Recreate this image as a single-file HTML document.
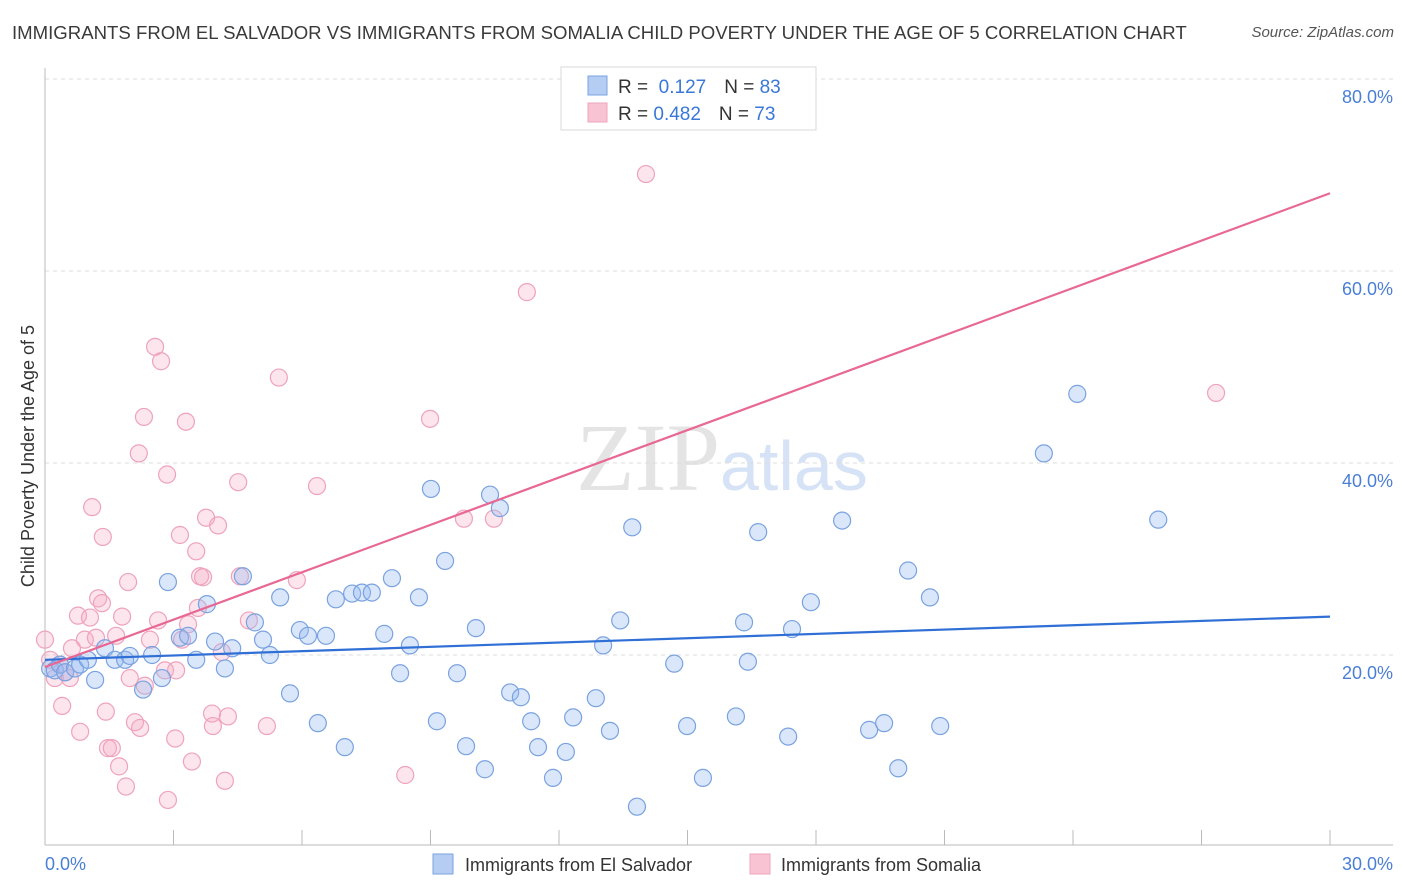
<!DOCTYPE html>
<html><head><meta charset="utf-8">
<style>
body{margin:0;background:#fff;font-family:"Liberation Sans",sans-serif;}
#wrap{position:relative;width:1406px;height:892px;overflow:hidden;}
.title{position:absolute;left:12px;top:22px;font-size:18.6px;color:#3a3a3a;white-space:nowrap;}
.src{position:absolute;right:12px;top:24px;font-size:15px;color:#555;font-style:italic;}
</style></head>
<body>
<div id="wrap">
<div class="title">IMMIGRANTS FROM EL SALVADOR VS IMMIGRANTS FROM SOMALIA CHILD POVERTY UNDER THE AGE OF 5 CORRELATION CHART</div>
<div class="src">Source: ZipAtlas.com</div>
<svg id="svg" width="1406" height="892" style="position:absolute;left:0;top:0">
<text x="720" y="490" text-anchor="end" font-family="Liberation Serif" font-size="96" fill="#e4e4e4">ZIP</text>
<text x="720" y="490" font-family="Liberation Sans" font-size="70" fill="#d6e2f5">atlas</text>
</svg>
</div>
<script>
const yTicks=[20,40,60,80];
const yTickLabels=["20.0%","40.0%","60.0%","80.0%"];
const xTicks=[0,3,6,9,12,15,18,21,24,27,30];
const blueX=[0.12,0.23,0.35,0.47,0.70,0.82,1.00,1.17,1.40,1.63,1.87,1.98,2.29,2.50,2.73,2.87,3.15,3.34,3.53,3.78,3.97,4.20,4.37,4.62,4.90,5.09,5.25,5.49,5.72,5.95,6.14,6.37,6.56,6.79,7.00,7.17,7.40,7.63,7.92,8.10,8.29,8.52,8.73,9.01,9.15,9.34,9.62,9.83,10.06,10.27,10.39,10.62,10.86,11.11,11.35,11.51,11.86,12.16,12.33,12.86,13.03,13.19,13.43,13.71,13.82,14.69,14.99,15.36,16.13,16.32,16.41,16.65,17.35,17.44,17.88,18.61,19.24,19.59,19.92,20.15,20.66,20.90,23.32,24.10,25.99];
const blueY=[18.6,18.4,19.0,18.2,18.6,19.0,19.5,17.4,20.7,19.5,19.5,19.9,16.4,20.0,17.6,27.6,21.8,22.0,19.5,25.3,21.4,18.6,20.7,28.2,23.4,21.6,20.0,26.0,16.0,22.6,22.0,12.9,22.0,25.8,10.4,26.4,26.5,26.5,22.2,28.0,18.1,21.0,26.0,37.3,13.1,29.8,18.1,10.5,22.8,8.1,36.7,35.3,16.1,15.6,13.1,10.4,7.2,9.9,13.5,15.5,21.0,12.1,23.6,33.3,4.2,19.1,12.6,7.2,13.6,23.4,19.3,32.8,11.5,22.7,25.5,34.0,12.2,12.9,8.2,28.8,26.0,12.6,41.0,47.2,34.1];
const pinkX=[0.0,0.12,0.23,0.35,0.47,0.58,0.63,0.77,0.82,0.40,0.93,1.05,1.10,1.19,1.24,1.33,1.35,1.42,1.47,1.56,1.66,1.73,1.80,1.89,1.94,1.98,2.10,2.22,2.31,2.33,2.45,2.57,2.64,2.71,2.80,2.85,2.87,3.04,3.06,3.15,3.20,3.29,3.34,3.43,3.53,3.57,3.62,3.69,3.76,3.90,3.92,4.04,4.13,4.20,4.27,4.51,4.55,4.76,5.18,5.46,5.88,6.35,8.41,8.99,9.78,10.48,11.25,14.03,27.34,2.19];
const pinkY=[21.6,19.5,17.6,19.0,18.2,17.6,20.7,24.1,12.0,14.7,21.6,23.9,35.4,21.8,25.9,25.4,32.3,14.1,10.3,10.3,22.0,8.4,24.0,6.3,27.6,17.6,13.0,12.4,44.8,16.8,21.6,52.1,23.6,50.6,18.4,38.8,4.9,11.3,18.4,32.5,21.6,44.3,23.2,8.9,30.8,24.9,28.2,28.1,34.3,13.9,12.6,33.5,20.3,6.9,13.6,38.0,28.2,23.6,12.6,48.9,27.8,37.6,7.5,44.6,34.2,34.2,57.8,70.1,47.3,41.0];
const blueTrend=[19.5,24.0];
const pinkTrend=[18.75,68.1];
const NS="http://www.w3.org/2000/svg";
const svg=document.getElementById('svg');
const X=v=>45+v/30*1285;
const Y=v=>847-v*9.6;
function mk(t,a){const e=document.createElementNS(NS,t);for(const k in a)e.setAttribute(k,a[k]);svg.appendChild(e);return e;}
yTicks.forEach((t,i)=>{
 const g=mk('line',{x1:45,x2:1393,y1:Y(t),y2:Y(t),stroke:'#dddddd','stroke-dasharray':'4,4'});
 
 
 const l=mk('text',{x:1393,y:Y(t)+24,'text-anchor':'end','font-size':18,fill:'#4a7fd6','font-family':'Liberation Sans'});
 l.textContent=yTickLabels[i];
 
 
});
const tg=mk('line',{x1:45,x2:1393,y1:79,y2:79,stroke:'#dddddd','stroke-dasharray':'4,4'});


const ax=mk('line',{x1:45,x2:1393,y1:845,y2:845,stroke:'#bbbbbb'});


const ay=mk('line',{x1:45,x2:45,y1:68,y2:845,stroke:'#bbbbbb'});


xTicks.forEach(t=>{
 const e=mk('line',{x1:X(t),x2:X(t),y1:830,y2:845,stroke:'#bbbbbb'});
 
 
});
function pts(xs,ys,fill,stroke,name){
 xs.forEach((x,i)=>{
  const c=mk('circle',{cx:X(x),cy:Y(ys[i]),r:8.5,fill:fill,stroke:stroke,'stroke-width':1.2});
  
  
 });
}
pts(pinkX,pinkY,'rgba(246,170,196,0.3)','#efa3bb','point-somalia');
pts(blueX,blueY,'rgba(150,185,240,0.35)','#7aa2e0','point-el-salvador');
const bl=mk('line',{x1:X(0),x2:X(30),y1:Y(blueTrend[0]),y2:Y(blueTrend[1]),stroke:'#2f6fd6','stroke-width':2.2});


const pl=mk('line',{x1:X(0),x2:X(30),y1:Y(pinkTrend[0]),y2:Y(pinkTrend[1]),stroke:'#e86893','stroke-width':2.2});


</script>
<svg width="1406" height="892" style="position:absolute;left:0;top:0" font-family="Liberation Sans">
<g>
<rect x="561" y="67" width="255" height="63" fill="#fff" stroke="#d8d8d8"/>
<rect x="588" y="76" width="19" height="19" fill="#b5cdf3" stroke="#7aa2e0"/>
<rect x="588" y="103" width="19" height="19" fill="#f8c4d4" stroke="#efa3bb"/>
<text x="618" y="93" font-size="19" fill="#333">R = <tspan fill="#3a78d8">&#160;0.127</tspan><tspan dx="18">N = </tspan><tspan fill="#3a78d8">83</tspan></text>
<text x="618" y="120" font-size="19" fill="#333">R = <tspan fill="#3a78d8">0.482</tspan><tspan dx="18">N = </tspan><tspan fill="#3a78d8">73</tspan></text>
</g>
<text x="45" y="870" font-size="18" fill="#4a7fd6">0.0%</text>
<text x="1393" y="870" font-size="18" fill="#4a7fd6" text-anchor="end">30.0%</text>
<g>
<rect x="433" y="854" width="20" height="20" fill="#b5cdf3" stroke="#7aa2e0"/>
<text x="465" y="871" font-size="18" fill="#333">Immigrants from El Salvador</text>
<rect x="750" y="854" width="20" height="20" fill="#f8c4d4" stroke="#efa3bb"/>
<text x="781" y="871" font-size="18" fill="#333">Immigrants from Somalia</text>
</g>
<text transform="translate(34,456) rotate(-90)" text-anchor="middle" font-size="18" fill="#333">Child Poverty Under the Age of 5</text>
</svg>
</body></html>
